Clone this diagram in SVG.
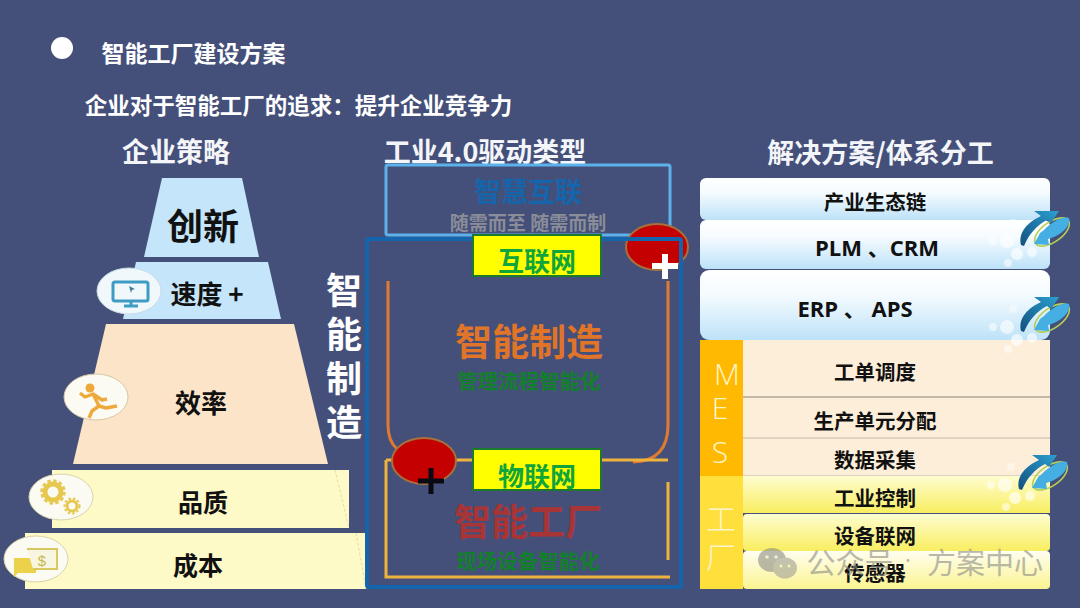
<svg xmlns="http://www.w3.org/2000/svg" xmlns:xlink="http://www.w3.org/1999/xlink" width="1080" height="608" viewBox="0 0 1080 608">
<style>
text{font-family:"Noto Sans CJK SC","Noto Sans",sans-serif;font-weight:700;text-anchor:middle}
.w{fill:#fff}.k{fill:#111}
.h{font-size:27px;fill:#f4f5f8}
.row{font-size:20.500px;fill:#111}
.lat{font-family:"Open Sans","Noto Sans CJK SC",sans-serif}
.badge{fill:#fbfbf4;stroke:#d9d3a8;stroke-width:1}
.g{fill:#12802a;font-size:20.500px}
.lbl{fill:#0fa43c;font-size:26px}
.yb{fill:#ffff00;stroke:#1c7a2c;stroke-width:2}
.red{fill:#c40000;stroke:#a8703c;stroke-width:2}
.col{font-weight:300;font-size:30px;fill:#fff5cc}
.mes{font-family:"Open Sans",sans-serif}
</style>
<defs>
<linearGradient id="bl" x1="0" y1="0" x2="0" y2="1"><stop offset="0" stop-color="#fff"/><stop offset="0.35" stop-color="#f5fbff"/><stop offset="1" stop-color="#bde2f8"/></linearGradient>
<linearGradient id="ye" x1="0" y1="0" x2="0" y2="1"><stop offset="0" stop-color="#fffdd0"/><stop offset="1" stop-color="#f8ee60"/></linearGradient>
<linearGradient id="ye2" x1="0" y1="0" x2="0" y2="1"><stop offset="0" stop-color="#fffef0"/><stop offset="1" stop-color="#fbf490"/></linearGradient>
<linearGradient id="sw" x1="0" y1="1" x2="1" y2="0"><stop offset="0" stop-color="#14507f"/><stop offset="1" stop-color="#2aa0d0"/></linearGradient>
<g id="swoosh">
<circle cx="-52" cy="12" r="4" fill="#fff" opacity=".55"/><circle cx="-38" cy="12" r="7" fill="#fff" opacity=".6"/><circle cx="-28" cy="25" r="6" fill="#fff" opacity=".65"/><circle cx="-37" cy="34" r="4" fill="#fff" opacity=".55"/><circle cx="-13" cy="23" r="5" fill="#fff" opacity=".6"/><circle cx="-32" cy="-6" r="4" fill="#fff" opacity=".4"/>
<ellipse cx="7" cy="3" rx="20" ry="10" transform="rotate(-35 7 3)" fill="none" stroke="#b8cf55" stroke-width="1.600"/>
<path d="M-24 16C-27 3-17-7-4-13L-11-18 14-18 6-6 2-9C-8-4-16 5-21 17Z" fill="url(#sw)"/>
<path d="M-1 1C7-7 17-13 24-11 26-4 18 6 3 10L4 16-11 15-6 6-5 4Z" fill="#45aee2"/>
</g>
</defs>
<rect width="1080" height="608" fill="#44507a"/>

<g id="title">
<circle cx="62" cy="48" r="11" fill="#fff"/>
<text x="193.500" y="62" class="w" style="font-size:23px">智能工厂建设方案</text>
<text x="298.500" y="114" class="w" style="font-size:22.500px">企业对于智能工厂的追求：提升企业竞争力</text>
<text x="176" y="162" class="h">企业策略</text>
<text x="485" y="162" class="h">工业4.0驱动类型</text>
<text x="880.500" y="163" class="h">解决方案/体系分工</text>
</g>

<g id="pyramid">
<g id="p-innovation"><path d="M162 178H242L259 257H144Z" fill="#c5e5fa"/><text x="203" y="240" class="k" style="font-size:36px">创新</text></g>
<g id="p-speed"><path d="M136 262H268L281 319H123Z" fill="#c5e5fa"/><text x="207" y="304" class="k" style="font-size:26px">速度 +</text>
<ellipse class="badge" cx="129" cy="291" rx="32" ry="23" style="fill:#f0f8fb;stroke:#c6dde8"/>
<rect x="113" y="282" width="35" height="19" rx="2" fill="none" stroke="#3e9bc4" stroke-width="3"/><path d="M124 306H138M131 301V306" stroke="#3e9bc4" stroke-width="3" fill="none"/><path d="M129 286l6 3-3 1-1 3Z" fill="#3e7f9a"/></g>
<g id="p-efficiency"><path d="M106 324H294L328 464H73Z" fill="#fce4c8"/><text x="201" y="413" class="k" style="font-size:26px">效率</text>
<ellipse class="badge" cx="96" cy="397" rx="32" ry="23" style="stroke:#d8c8a4"/>
<circle cx="90" cy="388" r="4.500" fill="#eea93b"/><path d="M80 393L85 397 93 394 99 406 92 411 89 418M93 394L102 400 107 399M99 406L106 408 117 406" fill="none" stroke="#eea93b" stroke-width="3.400" stroke-linejoin="round"/></g>
<g id="p-quality"><rect x="52" y="470" width="297" height="58" fill="#fdfac8"/><path d="M335 470L349 528" stroke="#e8dca0" stroke-dasharray="3 2" fill="none"/><text x="203" y="512" class="k" style="font-size:25px">品质</text>
<ellipse class="badge" cx="61" cy="497" rx="32" ry="23"/>
<circle cx="53" cy="492" r="8" fill="none" stroke="#e6c84e" stroke-width="5"/><circle cx="53" cy="492" r="11.500" fill="none" stroke="#e6c84e" stroke-width="2.500" stroke-dasharray="3.500 2.500"/><circle cx="72" cy="506" r="5" fill="none" stroke="#e6c84e" stroke-width="3"/><circle cx="72" cy="506" r="7.500" fill="none" stroke="#e6c84e" stroke-width="2" stroke-dasharray="2.500 2"/></g>
<g id="p-cost"><rect x="25" y="533" width="341" height="56" fill="#fdfac8"/><path d="M356 533L366 589" stroke="#e8dca0" stroke-dasharray="3 2" fill="none"/><text x="198" y="575" class="k" style="font-size:25px">成本</text>
<ellipse class="badge" cx="36" cy="559" rx="32" ry="23"/>
<path d="M14 558H36V573H18L14 577Z" fill="#ecd24a"/><path d="M27 549H57V569H33" fill="#f8f6e0" stroke="#d8c860" stroke-width="2"/><text x="42" y="566" style="font-size:15px;fill:#c8b850;font-family:'Liberation Sans',sans-serif;font-weight:400">$</text></g>
</g>

<g id="side-label" class="w" style="font-size:36px">
<text x="344" y="304">智</text><text x="344" y="348">能</text><text x="344" y="392">制</text><text x="344" y="436">造</text>
</g>

<g id="connectors" fill="none">
<rect x="386" y="165" width="284" height="70" rx="2" stroke="#5cb2ea" stroke-width="3"/>
<path d="M388 281V425Q388 441 397 449M668 281V425Q668 461 633 462" stroke="#e07a30" stroke-width="3"/>
<path d="M386 460V577H670M386 460H396M456 460H473M601 460H668M668 482V560" stroke="#eeb23e" stroke-width="3"/>
</g>

<g id="node-ellipse1"><ellipse class="red" cx="657" cy="247" rx="31" ry="23"/></g>
<g id="frame"><rect x="367" y="239" width="314" height="348" rx="2" fill="none" stroke="#1565ad" stroke-width="4"/></g>
<g id="plus1"><path d="M665 254V279M652 266H678" stroke="#fff" stroke-width="6" fill="none"/></g>
<g id="node-ellipse2"><ellipse class="red" cx="424" cy="461" rx="32" ry="23"/><path d="M431 468V494M418 481H444" stroke="#0a0a14" stroke-width="5" fill="none"/></g>

<g id="layer-smart-link">
<text x="528" y="202" style="font-size:27px;fill:#1565ad">智慧互联</text>
<text x="528" y="230" style="font-size:19px;fill:#8a8d98">随需而至 随需而制</text>
</g>
<g id="node-internet"><rect class="yb" x="473" y="235" width="128" height="41"/><text x="537" y="271" class="lbl">互联网</text></g>
<g id="layer-manufacturing">
<text x="529" y="356" style="font-size:37px;fill:#e07428">智能制造</text>
<text x="529" y="389" class="g">管理流程智能化</text>
</g>
<g id="node-iot"><rect class="yb" x="473" y="449" width="128" height="41"/><text x="537" y="486" class="lbl">物联网</text></g>
<g id="layer-factory">
<text x="528" y="536" style="font-size:37px;fill:#a83436">智能工厂</text>
<text x="528" y="569" class="g">现场设备智能化</text>
</g>

<g id="solutions">
<g id="s1"><rect x="700" y="178" width="350" height="42" rx="6" fill="url(#bl)"/><text x="875" y="210" class="row">产业生态链</text></g>
<g id="s2"><rect x="700" y="220" width="350" height="49" rx="6" fill="url(#bl)"/><text x="877" y="256" class="row lat" style="font-size:22px">PLM 、CRM</text></g>
<g id="s3"><rect x="700" y="270" width="350" height="70" rx="9" fill="url(#bl)"/><text x="855" y="317" class="row lat" style="font-size:22px">ERP 、 APS</text></g>
<g id="mes">
<rect x="700" y="340" width="350" height="136" fill="#fdeeda"/>
<rect x="700" y="340" width="43" height="136" fill="#ffb900"/>
<path d="M743 397H1050" stroke="#8a8478" stroke-width="1"/><path d="M743 438H1050M743 476H1050" stroke="#c0b8a8" stroke-width="1"/>
<text x="727" y="385" class="col mes">M</text>
<text x="720" y="419" class="col mes">E</text>
<text x="720" y="463" class="col mes">S</text>
<text x="875" y="380" class="row">工单调度</text><text x="875" y="429" class="row">生产单元分配</text><text x="875" y="468" class="row">数据采集</text>
</g>
<g id="factory">
<rect x="743" y="476" width="307" height="37" fill="url(#ye)"/>
<rect x="743" y="514" width="307" height="37" rx="4" fill="url(#ye)"/>
<rect x="743" y="551" width="307" height="38" rx="4" fill="url(#ye2)"/>
<rect x="700" y="476" width="43" height="113" fill="#ffdf3c"/>
<text x="721" y="530" class="col">工</text><text x="721" y="568" class="col">厂</text>
<text x="875" y="506" class="row">工业控制</text><text x="875" y="544" class="row">设备联网</text><text x="875" y="581" class="row">传感器</text>
</g>
</g>
<use xlink:href="#swoosh" href="#swoosh" x="1045" y="229"/>
<use xlink:href="#swoosh" href="#swoosh" x="1045" y="315"/>
<use xlink:href="#swoosh" href="#swoosh" x="1043" y="473"/>

<g id="watermark" opacity=".62">
<ellipse cx="772" cy="560" rx="14" ry="12" fill="#8f9088"/><ellipse cx="785" cy="568" rx="12" ry="10.500" fill="#a2a296"/>
<circle cx="767" cy="557" r="1.800" fill="#e8e6c0"/><circle cx="776" cy="557" r="1.800" fill="#e8e6c0"/><circle cx="781" cy="566" r="1.500" fill="#f4f0b0"/><circle cx="789" cy="566" r="1.500" fill="#f4f0b0"/>
<text x="850" y="574" style="font-size:29px;font-weight:400;fill:#8f9088">公众号</text><text x="908" y="565" style="font-size:14px;font-weight:400;fill:#8f9088">·</text>
<text x="985" y="574" style="font-size:29px;font-weight:400;fill:#8f9088">方案中心</text>
</g>
</svg>
